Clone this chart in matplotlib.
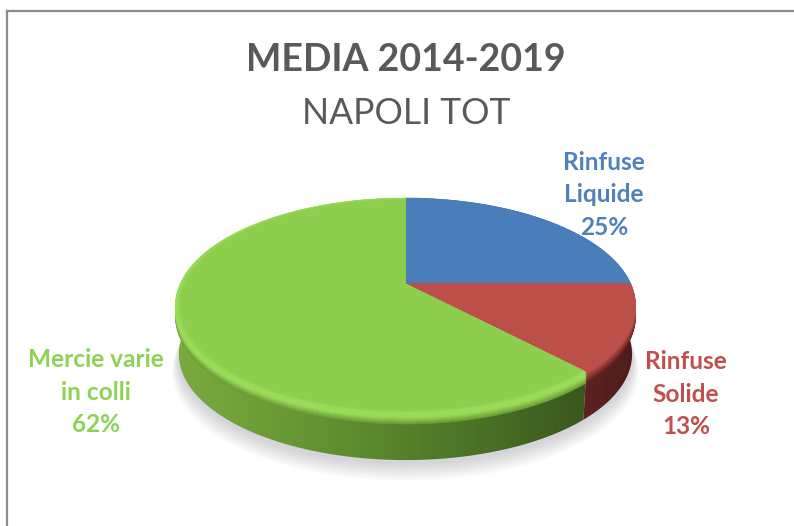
import numpy as np
import matplotlib
matplotlib.use("Agg")
import matplotlib.pyplot as plt
from matplotlib.lines import Line2D
from matplotlib.patches import Polygon
from matplotlib.colors import LinearSegmentedColormap, to_rgb

# Cargo shares for the port of Napoli
categories = ["Rinfuse\nLiquide", "Rinfuse\nSolide", "Mercie varie\nin colli"]
shares = [25, 13, 62]
face_colors = ["#4a7ebb", "#bd4f4b", "#8dce4e"]
text_colors = ["#4f81bd", "#c0504d", "#8dd255"]
side_stops = [
    ["#2c4a70", "#2c4a70"],
    ["#5e2320", "#4e1c1c"],
    ["#7aab3e", "#6b9a35", "#5a862c", "#4a7026", "#3a571e"],
]
label_centres = [(604, 195), (686, 394), (96, 392)]

CX, CY = 405.5, 284.0
RX, RY, PERSP = 225.4, 103.2, 0.2
DEPTH = 49.0

fig = plt.figure(figsize=(7.94, 5.26), dpi=100, facecolor="white")
ax = fig.add_axes([0, 0, 1, 1])
ax.set_xlim(0, 794)
ax.set_ylim(526, 0)
ax.axis("off")


def rim(t_deg, scale=1.0, dy=0.0):
    """Perspective projection of a disc rim point at angle t (degrees)."""
    t = np.radians(t_deg)
    d = 1 + PERSP * np.sin(t)
    x = CX + scale * RX * np.cos(t) / d
    y = CY - scale * RY * np.sin(t) / d + dy
    return np.column_stack([x, y])


def mix(a, b, f):
    a, b = np.array(to_rgb(a)), np.array(to_rgb(b))
    return tuple(a + (b - a) * np.clip(f, 0, 1))


# Chart frame: only the top and left borders fall inside the canvas
frame_style = dict(color="#8c8c8c", lw=1.6, zorder=1)
ax.add_line(Line2D([6.5, 794], [10.5, 10.5], **frame_style))
ax.add_line(Line2D([6.5, 6.5], [10.5, 526], **frame_style))

# Soft shadow under the disc
full = np.linspace(0, 360, 361)
for i in range(14):
    pts = rim(full, scale=1.014 - 0.0022 * i, dy=DEPTH + 17 - i * 1.0)
    ax.add_patch(Polygon(pts, closed=True, fc="#8e8e9c", ec="none", alpha=0.028, zorder=2))

# Slice angles run clockwise from the top of the disc
edges = 90 - 360 * np.cumsum([0] + shares) / np.sum(shares)
slices = list(zip(edges[:-1], edges[1:]))

# Side walls, each filled with a horizontal gradient
for idx in range(len(shares)):
    start, stop = slices[idx]
    arc = np.linspace(start, stop, 240)
    outer = rim(arc)
    lower = rim(arc, scale=0.985, dy=DEPTH)
    wall = Polygon(np.vstack([outer, lower[::-1]]), closed=True, fc="none", ec="none", zorder=3)
    ax.add_patch(wall)
    cmap = LinearSegmentedColormap.from_list("wall", side_stops[idx])
    xs = np.vstack([outer, lower])[:, 0]
    grad = np.linspace(0, 1, 256)[None, :]
    im = ax.imshow(grad, cmap=cmap, aspect="auto", zorder=3,
                   extent=(xs.min(), xs.max(), 480, 180), interpolation="bilinear")
    im.set_clip_path(wall)
ax.set_xlim(0, 794)
ax.set_ylim(526, 0)

# Bevel between wall and top face, then the face blended inwards
highlight = "#9adc59"
for idx in range(len(shares)):
    start, stop = slices[idx]
    arc = np.linspace(start, stop, 240)
    base = face_colors[idx]
    for step in np.arange(11, -1, -1):
        f = step / 11
        if idx == 2:
            colour = mix(highlight, "#6d9c38", (f - 0.4) / 0.6)
        else:
            colour = mix(base, side_stops[idx][0], (f - 0.1) / 0.9)
        pts = np.vstack([[[CX, CY + step]], rim(arc, dy=step)])
        ax.add_patch(Polygon(pts, closed=True, fc=colour, ec=colour, lw=0.4, zorder=4))
    edge_tone = highlight if idx == 2 else base
    for k, scale in enumerate(np.linspace(0.995, 0.975, 6)):
        colour = mix(edge_tone, base, k / 5)
        pts = np.vstack([[[CX, CY]], rim(arc, scale=scale)])
        ax.add_patch(Polygon(pts, closed=True, fc=colour, ec=colour, lw=0.4, zorder=5))

# Text
font = "Lato"
ax.text(406, 60, "MEDIA 2014-2019", ha="center", va="center", color="#595959",
        fontsize=27, fontweight="bold", family=font, zorder=6)
ax.text(406, 113, "NAPOLI TOT", ha="center", va="center", color="#595959",
        fontsize=25.6, family=font, zorder=6)
for name, value, colour, (lx, ly) in zip(categories, shares, text_colors, label_centres):
    ax.text(lx, ly, f"{name}\n{value}%", ha="center", va="center", color=colour,
            fontsize=17.6, fontweight="bold", family=font, linespacing=1.48, zorder=6)

fig.savefig("out.png", dpi=100)
